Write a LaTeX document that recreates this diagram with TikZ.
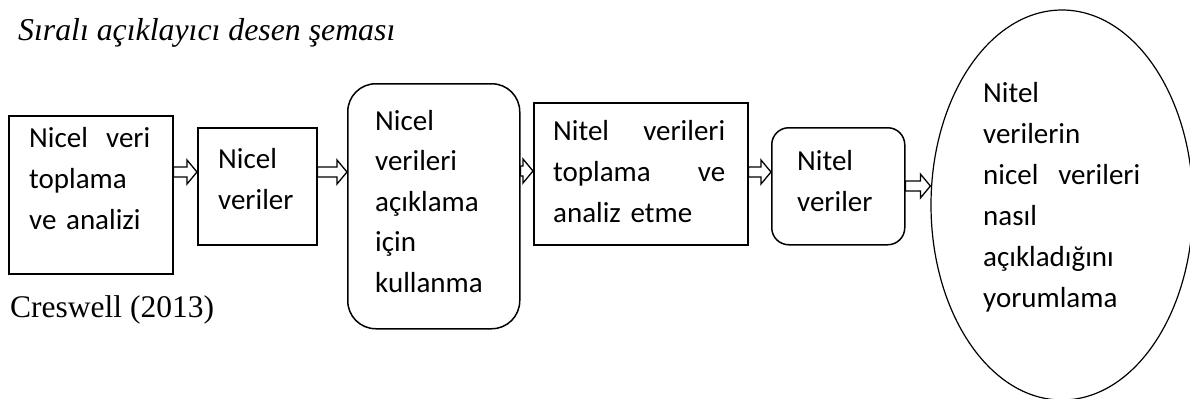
\documentclass[tikz,border=0pt]{standalone}
\usepackage{fontspec}
\setmainfont{Liberation Serif}
\newfontfamily\bodyfont{Carlito}
\usetikzlibrary{shapes.geometric,calc}

\tikzset{
  box/.style={draw, line width=1.5bp, inner sep=0pt, anchor=north west},
  txt/.style={inner sep=0pt, anchor=base west, align=left, text width=#1,
    font=\bodyfont\fontsize{29bp}{41bp}\selectfont},
  txt/.default=150bp,
  barrow/.style={draw, fill=white, line width=1.3bp, line join=miter},
}

% hollow block arrow from the east side of #1 to the west side of #2 at height #3
\newcommand\blockarrow[3]{%
  \draw[barrow] let \p1=(#1.east), \p2=(#2.west), \p3=(0,#3) in
    (\x1,\y3+5bp) -- (\x2-10bp,\y3+5bp) -- (\x2-10bp,\y3+12bp) -- (\x2,\y3)
    -- (\x2-10bp,\y3-12bp) -- (\x2-10bp,\y3-5bp) -- (\x1,\y3-5bp) -- cycle;
}

\begin{document}
\begin{tikzpicture}[x=1bp,y=-1bp]
\useasboundingbox (0,0) rectangle (1190,398);

% title and source
\node[anchor=base west, inner sep=0pt, font=\itshape\fontsize{31.8bp}{36bp}\selectfont]
  (title) at (18,40) {Sıralı açıklayıcı desen şeması};
\node[anchor=base west, inner sep=0pt, font=\fontsize{31.5bp}{36bp}\selectfont]
  (src) at (10,317) {Creswell (2013)};

% frames
\node[box, minimum width=164bp, minimum height=158bp] (b1) at (8,115) {};
\node[box, minimum width=119bp, minimum height=117bp] (b2) at (197,127) {};
\node[box, rounded corners=28bp, minimum width=172bp, minimum height=245bp] (b3) at (347,83) {};
\node[box, minimum width=214bp, minimum height=142bp] (b4) at (533,102) {};
\node[box, rounded corners=17bp, minimum width=133bp, minimum height=117bp] (b5) at (771,127) {};
\node[draw, ellipse, line width=1.2bp, inner sep=0pt, minimum width=262bp, minimum height=390bp]
  (b6) at (1062,205) {};

% texts
\node[txt=121bp] (t1) at (29,147) {Nicel\hfill veri\\toplama\\ve analizi};
\node[txt] (t2) at (218,168) {Nicel\\veriler};
\node[txt, font=\bodyfont\fontsize{29bp}{40.5bp}\selectfont] (t3) at (375,130)
  {Nicel\\verileri\\açıklama\\için\\kullanma};
\node[txt=172bp] (t4) at (553,140) {Nitel\hfill verileri\\toplama\hfill ve\\analiz etme};
\node[txt] (t5) at (797,170) {Nitel\\veriler};
\node[txt=157bp] (t6) at (983,102)
  {Nitel\\verilerin\\nicel\hfill verileri\\nasıl\\açıkladığını\\yorumlama};

% connectors
\blockarrow{b1}{b2}{172}
\blockarrow{b2}{b3}{172}
\blockarrow{b3}{b4}{171}
\blockarrow{b4}{b5}{172}
\blockarrow{b5}{b6}{186}
\end{tikzpicture}
\end{document}
